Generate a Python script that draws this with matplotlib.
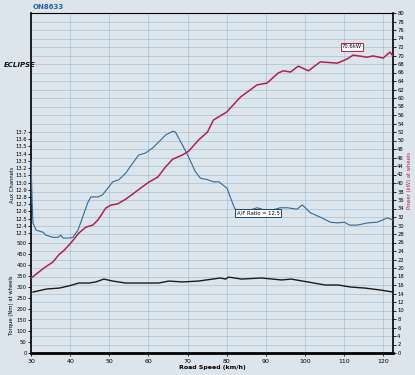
import numpy as np
import matplotlib
matplotlib.use("Agg")
import matplotlib.pyplot as plt

# Данные
speed_power = [30, 33.3, 35.6, 37.1, 38.5, 40.2, 42.2, 44.0, 45.8, 47.1, 49.1, 50.4, 52.2, 54.2,
               56.0, 58.0, 60.1, 62.4, 64.4, 66.2, 68.7, 70.3, 72.8, 75.1, 76.6, 80.0, 83.5,
               86.0, 87.8, 90.3, 93.2, 94.5, 96.3, 98.3, 100.9, 103.9, 108.3, 110.8, 112.3,
               115.9, 117.4, 120.0, 121.7, 122.5]
power_kw = [17.6, 20.0, 21.4, 23.1, 24.2, 25.9, 28.2, 29.6, 30.1, 31.3, 34.1, 34.8, 35.1, 36.2,
            37.4, 38.8, 40.2, 41.4, 43.8, 45.6, 46.6, 47.5, 50.1, 52.0, 54.8, 56.7, 60.2,
            61.9, 63.1, 63.5, 65.9, 66.4, 66.1, 67.5, 66.4, 68.5, 68.2, 69.2, 70.1,
            69.6, 69.9, 69.4, 70.8, 69.9]

speed_torque = [30.5, 34.0, 37.2, 39.7, 42.2, 44.8, 46.6, 48.6, 50.9, 54.2, 58.5, 62.6, 65.2,
                68.7, 72.8, 76.4, 78.4, 79.7, 80.5, 83.8, 88.9, 94.0, 96.5, 100.7, 105.2,
                108.5, 111.6, 115.4, 119.4, 122.5]
torque_nm = [277, 291, 295, 305, 318, 318, 323, 336, 327, 318, 318, 318, 327,
             323, 327, 336, 341, 336, 345, 336, 341, 332, 336, 323, 309,
             309, 300, 295, 286, 277]

speed_afr = [30.0, 30.3, 30.5, 31.3, 33.1, 33.8, 35.6, 36.9, 37.6, 38.2, 39.7, 40.7, 42.0, 43.2,
             44.5, 45.3, 47.1, 48.3, 49.6, 50.9, 52.5, 54.2, 56.0, 57.5, 59.3, 61.1, 62.6,
             64.4, 66.2, 66.9, 68.7, 70.3, 72.0, 73.3, 75.1, 76.6, 78.0, 80.1, 80.9, 81.9,
             82.7, 84.5, 86.0, 87.8, 89.6, 91.7, 93.7, 95.5, 98.0, 99.3, 100.1, 101.4,
             103.9, 106.5, 108.3, 110.1, 111.4, 113.4, 116.0, 118.5, 121.1, 122.5]
afr = [13.3, 12.72, 12.44, 12.34, 12.31, 12.27, 12.24, 12.24, 12.27, 12.23, 12.23, 12.24, 12.34,
       12.52, 12.72, 12.80, 12.80, 12.83, 12.92, 13.01, 13.04, 13.13, 13.27, 13.38, 13.41,
       13.48, 13.56, 13.66, 13.71, 13.70, 13.52, 13.35, 13.15, 13.06, 13.04, 13.01, 13.01,
       12.92, 12.80, 12.66, 12.59, 12.59, 12.62, 12.65, 12.62, 12.62, 12.65, 12.65, 12.63,
       12.69, 12.65, 12.58, 12.52, 12.45, 12.44, 12.45, 12.41, 12.41, 12.44, 12.45, 12.51, 12.48]

x_ticks = list(range(30, 121, 10))
power_ticks = list(range(0, 81, 2))
torque_ticks = list(range(0, 501, 50))
afr_ticks = [round(12.3 + 0.1 * i, 1) for i in range(15)]

bg = "#dce5eb"
grid_c = "#a6c2d6"
red = "#b3204d"
blue = "#2e6a9c"

fig = plt.figure(figsize=(4.15, 3.75), dpi=100)
fig.patch.set_facecolor(bg)

# базовые оси - на них сетка (шаг 2 кВт по вертикали)
ax = fig.add_axes([31 / 415, 22 / 375, 362 / 415, 340 / 375])
ax.set_facecolor(bg)
ax.set_xlim(30, 122.5)
ax.set_ylim(0, 80)
ax.set_xticks(x_ticks)
ax.set_yticks(power_ticks)
ax.grid(True, color=grid_c, linewidth=0.5)
ax.set_axisbelow(True)
for s in ["left", "right"]:
    ax.spines[s].set_linewidth(1.2)
ax.spines["bottom"].set_linewidth(2)
ax.spines["top"].set_linewidth(0.8)
ax.set_xlabel("Road Speed (km/h)", fontsize=4.5, fontweight="bold", labelpad=1)

# крутящий момент (слева, нижняя часть)
ax_t = ax.twinx()
ax_t.set_ylim(0, 340 / 0.22)
ax_t.set_yticks(torque_ticks)
ax_t.yaxis.tick_left()
ax_t.tick_params(axis="y", labelsize=3.8, length=2, width=0.6, pad=1)
for s in ax_t.spines.values():
    s.set_visible(False)
ax_t.plot(speed_torque, torque_nm, color="#1a1a1a", linewidth=1.0)

# AFR (слева, средняя часть)
ax_a = ax.twinx()
ax_a.set_ylim(10.636, 15.351)
ax_a.set_yticks(afr_ticks)
ax_a.set_yticklabels([f"{v:.1f}" for v in afr_ticks])
ax_a.yaxis.tick_left()
ax_a.tick_params(axis="y", labelsize=3.8, length=2, width=0.6, pad=1)
for s in ax_a.spines.values():
    s.set_visible(False)
ax_a.plot(speed_afr, afr, color=blue, linewidth=0.8)

# мощность - после twinx, иначе тики уходят влево
ax_p = ax.twinx()
ax_p.set_ylim(0, 80)
ax_p.set_yticks(power_ticks)
ax_p.yaxis.tick_right()
ax_p.tick_params(axis="y", labelsize=3.8, length=2, width=0.6, pad=1)
for s in ax_p.spines.values():
    s.set_visible(False)
ax_p.plot(speed_power, power_kw, color=red, linewidth=1.1)
ax.tick_params(axis="y", left=False, labelleft=False, right=False, labelright=False)
ax.tick_params(axis="x", labelsize=4.5, length=2, width=0.6, pad=2)

# подписи-метки
ax_p.annotate("70.6kW", xy=(112, 72), fontsize=3.8, ha="center", va="center",
              bbox=dict(boxstyle="square,pad=0.25", fc="white", ec=red, lw=0.7))
ax_a.annotate("A/F Ratio = 12.5", xy=(88, 12.58), fontsize=3.8, ha="center", va="center",
              bbox=dict(boxstyle="square,pad=0.25", fc="white", ec="#1f3f7a", lw=0.7))

fig.text(12 / 415, 1 - 185 / 375, "Aux Channels", rotation=90, fontsize=3.8,
         ha="center", va="center")
fig.text(11 / 415, 1 - 305 / 375, "Torque (Nm) at wheels", rotation=90, fontsize=3.8,
         ha="center", va="center")
fig.text(409 / 415, 1 - 180 / 375, "Power (kW) at wheels", rotation=90, fontsize=3.8,
         ha="center", va="center", color=red)
fig.text(48 / 415, 1 - 7 / 375, "ON8633", fontsize=5, fontweight="bold", color="#2b5fa0",
         ha="center", va="center")
fig.text(20 / 415, 1 - 65 / 375, "ECLIPSE", fontsize=5, fontweight="bold", style="italic",
         ha="center", va="center", color="#111111")

fig.savefig("out.png", dpi=100, facecolor=bg)
